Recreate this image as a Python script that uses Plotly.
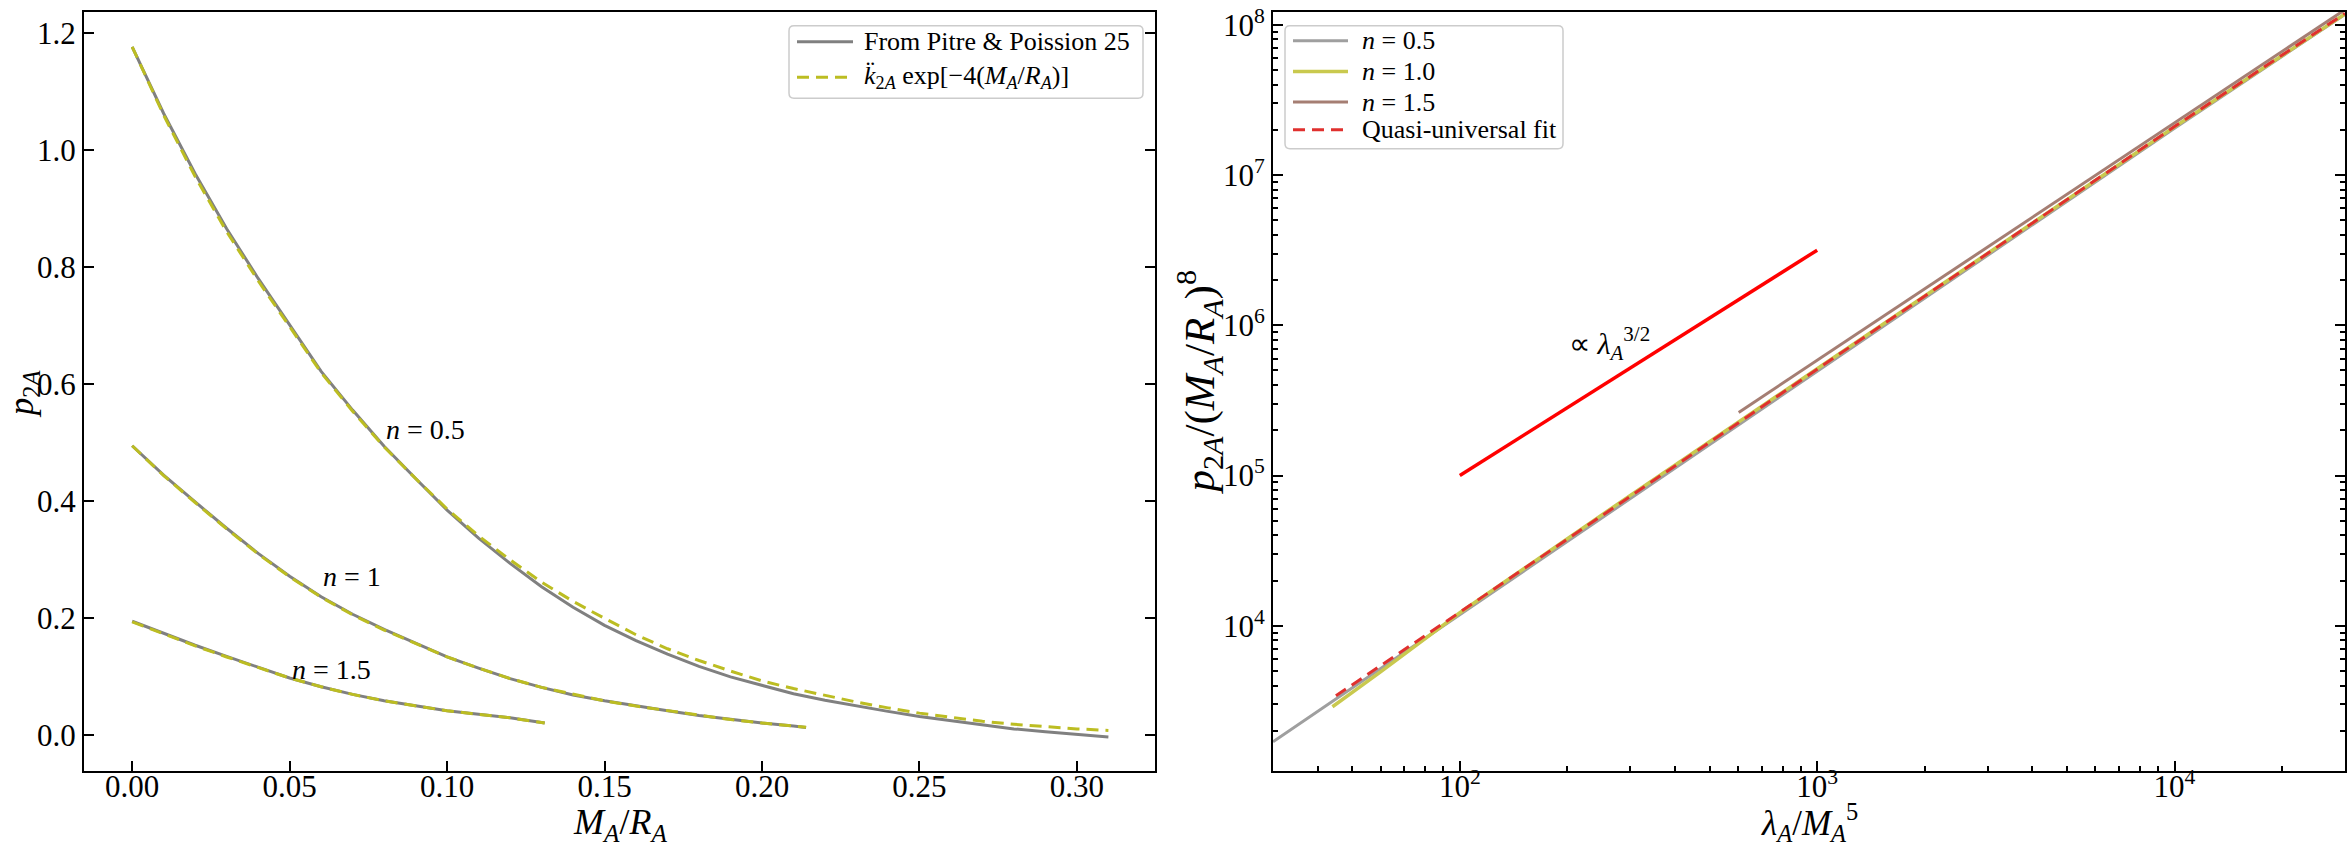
import math
import plotly.graph_objects as go

FONT = "Liberation Serif"

# ---------------- left panel data: p_2A vs M_A/R_A ----------------
C_n05 = [0.00, 0.01, 0.02, 0.03, 0.04, 0.05, 0.06, 0.07, 0.08, 0.09, 0.10, 0.11, 0.12, 0.13, 0.14, 0.15,
         0.16, 0.17, 0.18, 0.19, 0.20, 0.21, 0.22, 0.23, 0.24, 0.25, 0.26, 0.27, 0.28, 0.29, 0.30, 0.31]
p_pp_n05 = [1.177, 1.063, 0.960, 0.866, 0.781, 0.701, 0.622, 0.556, 0.494, 0.439, 0.385, 0.337, 0.294, 0.254,
            0.219, 0.188, 0.162, 0.139, 0.118, 0.100, 0.085, 0.071, 0.060, 0.050, 0.041, 0.0323, 0.025, 0.018,
            0.011, 0.006, 0.002, -0.003]
p_fit_n05 = [1.177, 1.060, 0.955, 0.861, 0.777, 0.698, 0.620, 0.554, 0.493, 0.439, 0.387, 0.341, 0.300, 0.262,
             0.229, 0.200, 0.172, 0.148, 0.128, 0.110, 0.093, 0.080, 0.068, 0.057, 0.047, 0.038, 0.031, 0.024,
             0.019, 0.015, 0.011, 0.0085]

C_n10 = [0.00, 0.01, 0.02, 0.03, 0.04, 0.05, 0.06, 0.07, 0.08, 0.09, 0.10, 0.11, 0.12, 0.13, 0.14, 0.15,
         0.16, 0.17, 0.18, 0.19, 0.20, 0.21, 0.214]
p_pp_n10 = [0.495, 0.445, 0.399, 0.354, 0.311, 0.272, 0.237, 0.207, 0.181, 0.157, 0.134, 0.115, 0.097, 0.082,
            0.069, 0.059, 0.050, 0.042, 0.034, 0.027, 0.021, 0.016, 0.0136]
p_fit_n10 = [0.495, 0.444, 0.398, 0.353, 0.310, 0.271, 0.236, 0.206, 0.180, 0.157, 0.134, 0.115, 0.097, 0.082,
             0.070, 0.059, 0.050, 0.042, 0.034, 0.027, 0.021, 0.016, 0.0138]

C_n15 = [0.00, 0.01, 0.02, 0.03, 0.04, 0.05, 0.06, 0.07, 0.08, 0.09, 0.10, 0.11, 0.12, 0.13, 0.131]
p_pp_n15 = [0.195, 0.174, 0.154, 0.135, 0.116, 0.098, 0.083, 0.070, 0.059, 0.050, 0.042, 0.036, 0.030, 0.022, 0.021]
p_fit_n15 = [0.194, 0.173, 0.153, 0.134, 0.116, 0.098, 0.083, 0.070, 0.059, 0.050, 0.042, 0.036, 0.030, 0.022, 0.021]

left_curves = [(C_n05, p_pp_n05, p_fit_n05), (C_n10, p_pp_n10, p_fit_n10), (C_n15, p_pp_n15, p_fit_n15)]
curve_labels = ["<i>n</i> = 0.5", "<i>n</i> = 1", "<i>n</i> = 1.5"]
label_x = [0.080, 0.060, 0.050]
label_y = [0.523, 0.272, 0.113]

left_xticks = [0.00, 0.05, 0.10, 0.15, 0.20, 0.25, 0.30]
left_xticktext = ["0.00", "0.05", "0.10", "0.15", "0.20", "0.25", "0.30"]
left_yticks = [0.0, 0.2, 0.4, 0.6, 0.8, 1.0, 1.2]
left_yticktext = ["0.0", "0.2", "0.4", "0.6", "0.8", "1.0", "1.2"]

# ---------------- right panel data: p_2A/C^8 vs lambda/M^5 ----------------
lam_n05 = [30, 45, 90, 200, 600, 2000, 10000, 30000]
q_n05 = [1.69e3, 3.26e3, 1.00e4, 3.66e4, 2.17e5, 1.52e6, 2.05e7, 1.17e8]
lam_n10 = [44, 60, 100, 300, 1000, 10000, 30000]
q_n10 = [2.89e3, 4.93e3, 1.22e4, 7.38e4, 5.13e5, 2.09e7, 1.18e8]
lam_n15 = [603, 1000, 3000, 10000, 30000]
q_n15 = [2.63e5, 5.85e5, 3.35e6, 2.25e7, 1.26e8]
lam_fit = [45, 100, 1000, 10000, 30000]
q_fit = [3.42e3, 1.23e4, 5.10e5, 2.10e7, 1.19e8]
lam_slope = [100, 1000]
q_slope = [1.0e5, 3.16e6]

right_xticks = [1e2, 1e3, 1e4]
right_xticktext = ["10<sup>2</sup>", "10<sup>3</sup>", "10<sup>4</sup>"]
right_yticks = [1e4, 1e5, 1e6, 1e7, 1e8]
right_yticktext = ["10<sup>4</sup>", "10<sup>5</sup>", "10<sup>6</sup>", "10<sup>7</sup>", "10<sup>8</sup>"]

# ---------------- styles ----------------
GREY = "#808080"
OLIVE = "#bcbd22"
DASH = "12px,7px"
left_names = ["From Pitre &amp; Poission 25",
              "<i>k̈</i><sub>2<i>A</i></sub> exp[−4(<i>M</i><sub><i>A</i></sub>/<i>R</i><sub><i>A</i></sub>)]"]
left_colors = [GREY, OLIVE]
left_dashes = ["solid", DASH]

right_names = ["<i>n</i> = 0.5", "<i>n</i> = 1.0", "<i>n</i> = 1.5", "Quasi-universal fit"]
right_colors = ["#9f9f9f", "#c9c94e", "#a57e73", "#e0302e"]
right_dashes = ["solid", "solid", "solid", DASH]
right_widths = [3, 3.5, 3, 3]
right_series = [(lam_n05, q_n05), (lam_n10, q_n10), (lam_n15, q_n15), (lam_fit, q_fit)]

fig = go.Figure()

for c, pp, fit in left_curves:
    fig.add_trace(go.Scatter(x=c, y=pp, mode="lines", line=dict(color=GREY, width=3),
                             name="From Pitre & Poission 25", showlegend=False, xaxis="x", yaxis="y"))
for c, pp, fit in left_curves:
    fig.add_trace(go.Scatter(x=c, y=fit, mode="lines", line=dict(color=OLIVE, width=3, dash=DASH),
                             name="k2A exp fit", showlegend=False, xaxis="x", yaxis="y"))

for (lx, ly), col, dsh, wd in zip(right_series, right_colors, right_dashes, right_widths):
    fig.add_trace(go.Scatter(x=lx, y=ly, mode="lines", line=dict(color=col, width=wd, dash=dsh),
                             showlegend=False, xaxis="x2", yaxis="y2"))
fig.add_trace(go.Scatter(x=lam_slope, y=q_slope, mode="lines", line=dict(color="#ff0000", width=3.5),
                         showlegend=False, xaxis="x2", yaxis="y2"))

W, H = 2350, 850
YDOM = [80 / H, 846 / H]
axis_common = dict(showline=True, linecolor="black", linewidth=2, showgrid=False, zeroline=False,
                   ticks="inside", ticklen=10, tickwidth=2, tickcolor="black", ticklabeloverflow="allow",
                   tickfont=dict(family=FONT, size=31, color="black"))

minor_x = [v * 10 ** e for e in range(1, 5) for v in range(2, 10) if 30 <= v * 10 ** e <= 30000]
minor_y = [v * 10 ** e for e in range(3, 9) for v in range(2, 10) if 1.0e3 <= v * 10 ** e <= 1.2e8]

fig.update_layout(
    width=W, height=H, autosize=False, showlegend=False,
    margin=dict(l=0, r=0, t=0, b=0),
    paper_bgcolor="white", plot_bgcolor="white",
    font=dict(family=FONT, color="black"),
    xaxis=dict(domain=[84 / W, 1155 / W], range=[-0.0153, 0.3248], tickmode="array",
               tickvals=left_xticks, ticktext=left_xticktext, mirror=True, anchor="y",
               ticklabelstandoff=-13, **axis_common),
    yaxis=dict(domain=YDOM, range=[-0.0605, 1.2365], tickmode="array",
               tickvals=left_yticks, ticktext=left_yticktext, mirror="ticks", anchor="x", **axis_common),
    xaxis2=dict(domain=[1273 / W, 2345 / W], type="log", range=[math.log10(30), math.log10(30000)],
                tickmode="array", tickvals=right_xticks, ticktext=right_xticktext, mirror=True, anchor="y2",
                ticklabelstandoff=-13,
                minor=dict(ticks="inside", ticklen=5, tickwidth=1.5, tickcolor="black",
                           tickmode="array", tickvals=minor_x),
                **axis_common),
    yaxis2=dict(domain=YDOM, type="log", range=[3.035, 8.085], tickmode="array",
                tickvals=right_yticks, ticktext=right_yticktext, mirror="ticks", anchor="x2",
                minor=dict(ticks="inside", ticklen=5, tickwidth=1.5, tickcolor="black",
                           tickmode="array", tickvals=minor_y),
                **axis_common),
)


# ---------------- hand-drawn legends (matplotlib style) ----------------
def px(x):
    return x / W


def py(y):
    return 1 - y / H


def rounded_box(x0, y0, x1, y1, r=5):
    return (f"M {px(x0 + r)} {py(y0)} L {px(x1 - r)} {py(y0)} Q {px(x1)} {py(y0)} {px(x1)} {py(y0 + r)} "
            f"L {px(x1)} {py(y1 - r)} Q {px(x1)} {py(y1)} {px(x1 - r)} {py(y1)} "
            f"L {px(x0 + r)} {py(y1)} Q {px(x0)} {py(y1)} {px(x0)} {py(y1 - r)} "
            f"L {px(x0)} {py(y0 + r)} Q {px(x0)} {py(y0)} {px(x0 + r)} {py(y0)} Z")


shapes = []
annotations = []
LEG_FONT = dict(family=FONT, size=26, color="black")


def add_legend(box, rows, sample_x, text_x, names, colors, dashes, widths):
    shapes.append(dict(type="path", xref="paper", yref="paper", path=rounded_box(*box),
                       line=dict(color="#cccccc", width=1.5), fillcolor="rgba(255,255,255,0.85)",
                       layer="above"))
    for yrow, nm, col, dsh, wd in zip(rows, names, colors, dashes, widths):
        shapes.append(dict(type="line", xref="paper", yref="paper", x0=px(sample_x[0]), x1=px(sample_x[1]),
                           y0=py(yrow), y1=py(yrow), line=dict(color=col, width=wd, dash=dsh), layer="above"))
        annotations.append(dict(x=px(text_x), y=py(yrow), xref="paper", yref="paper", text=nm,
                                showarrow=False, xanchor="left", yanchor="middle", font=LEG_FONT))


add_legend((789, 18, 1143, 91), [34, 70], (797, 853), 862, left_names, left_colors, left_dashes, [3, 3])
add_legend((1285, 18, 1563, 142), [33, 64, 95, 123], (1293, 1348), 1360, right_names, right_colors,
           right_dashes, right_widths)

for txt, lx, ly in zip(curve_labels, label_x, label_y):
    annotations.append(dict(x=lx, y=ly, xref="x", yref="y", text=txt, showarrow=False,
                            xanchor="left", yanchor="middle", font=dict(family=FONT, size=28)))
annotations.append(dict(x=math.log10(200), y=math.log10(7.6e5), xref="x2", yref="y2",
                        text="∝ <i>λ</i><sub><i>A</i></sub><sup>3/2</sup>", showarrow=False,
                        xanchor="left", yanchor="middle", font=dict(family=FONT, size=30)))
# axis titles
annotations.append(dict(x=620 / W, y=1 / H, xref="paper", yref="paper",
                        text="<i>M</i><sub><i>A</i></sub>/<i>R</i><sub><i>A</i></sub>", showarrow=False,
                        xanchor="center", yanchor="bottom", font=dict(family=FONT, size=36)))
annotations.append(dict(x=23 / W, y=(H - 389) / H, xref="paper", yref="paper", textangle=-90,
                        text="<i>p</i><sub>2<i>A</i></sub>", showarrow=False,
                        xanchor="center", yanchor="middle", font=dict(family=FONT, size=35)))
annotations.append(dict(x=1809 / W, y=1 / H, xref="paper", yref="paper",
                        text="<i>λ</i><sub><i>A</i></sub>/<i>M</i><sub><i>A</i></sub><sup>5</sup>", showarrow=False,
                        xanchor="center", yanchor="bottom", font=dict(family=FONT, size=35)))
annotations.append(dict(x=1199 / W, y=(H - 378) / H, xref="paper", yref="paper", textangle=-90,
                        text="<i>p</i><sub>2<i>A</i></sub>/(<i>M</i><sub><i>A</i></sub>/<i>R</i><sub><i>A</i></sub>)<sup>8</sup>",
                        showarrow=False, xanchor="center", yanchor="middle", font=dict(family=FONT, size=43)))
fig.update_layout(shapes=shapes, annotations=annotations)

fig.write_html("out.html")
